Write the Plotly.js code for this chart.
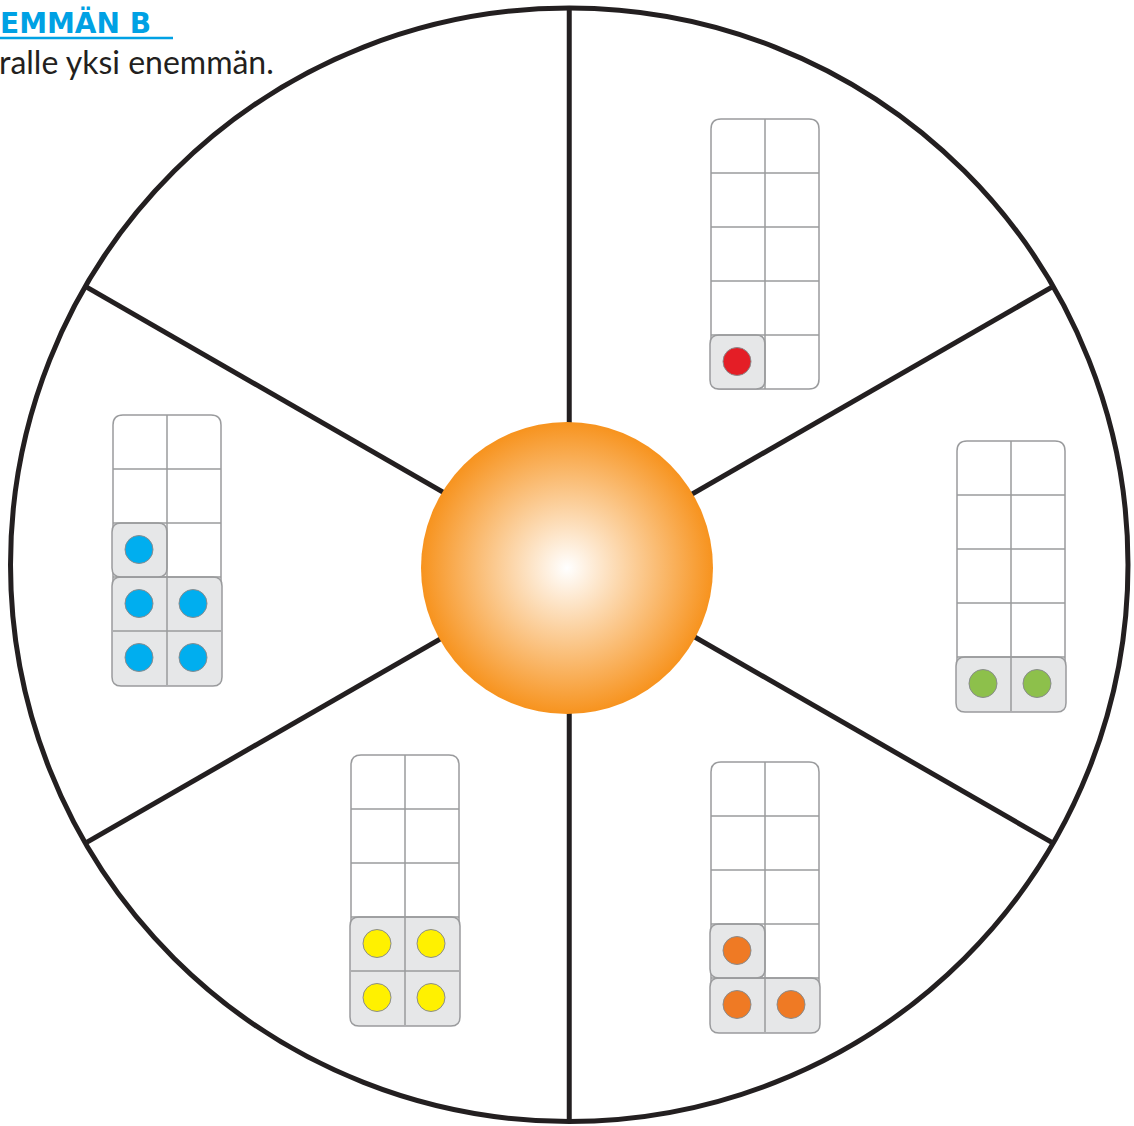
<!DOCTYPE html>
<html><head><meta charset="utf-8">
<script src="https://cdn.plot.ly/plotly-3.0.1.min.js"></script>
<style>html,body{margin:0;padding:0;background:#fff;}#chart{width:1134px;height:1126px;}</style>
</head><body><div id="chart"></div>
<script>
// ---------- data ----------
const sectorNames = ['ylävasen', 'yläoikea', 'oikea', 'alaoikea', 'alavasen', 'vasen'];
const counterCounts = [0, 1, 2, 3, 4, 5];
const counterColors = ['#ffffff', '#e41e26', '#8dc04b', '#ef7a24', '#fff100', '#00aeef'];
const frameColumns = 2;
const frameRows = 5;
const headerText = 'EMMÄN B';
const instructionText = 'ralle yksi enemmän.';

// ---------- layout constants ----------
const W = 1134, H = 1126;
const outer = {x0: 10.5, x1: 1128, y0: 8, y1: 1121.5};
const cx = (outer.x0 + outer.x1) / 2, cy = (outer.y0 + outer.y1) / 2;
const rx = (outer.x1 - outer.x0) / 2, ry = (outer.y1 - outer.y0) / 2;
const spokeAngles = [90, 30, -30, -90, -150, 150];
const inner = {cx: 567, cy: 568, d: 292};
const frameOrigins = [null, [711, 119], [957, 441], [711, 762], [351, 755], [113, 415]];
const cell = 54, frameR = 10, tileR = 9;
const ink = '#231f20', gridCol = '#9a9b9d', tileFill = '#e6e7e8', cyan = '#00a1e4';

function rrect(x0, y0, x1, y1, r) {
  return `M${x0 + r},${y0} H${x1 - r} Q${x1},${y0} ${x1},${y0 + r} V${y1 - r} Q${x1},${y1} ${x1 - r},${y1} H${x0 + r} Q${x0},${y1} ${x0},${y1 - r} V${y0 + r} Q${x0},${y0} ${x0 + r},${y0} Z`;
}

const shapes = [];
shapes.push({type: 'circle', xref: 'x', yref: 'y', x0: outer.x0, x1: outer.x1, y0: outer.y0, y1: outer.y1,
  line: {color: ink, width: 5}, fillcolor: 'rgba(0,0,0,0)', layer: 'below'});
spokeAngles.forEach(a => {
  const t = a * Math.PI / 180;
  shapes.push({type: 'line', xref: 'x', yref: 'y', x0: cx, y0: cy,
    x1: cx + rx * Math.cos(t), y1: cy - ry * Math.sin(t), line: {color: ink, width: 5}, layer: 'below'});
});

const dotX = [], dotY = [], dotC = [];
sectorNames.forEach((name, i) => {
  const o = frameOrigins[i];
  if (!o) return;
  const [ox, oy] = o;
  const fw = frameColumns * cell, fh = frameRows * cell;
  shapes.push({type: 'path', xref: 'x', yref: 'y', path: rrect(ox, oy, ox + fw, oy + fh, frameR),
    fillcolor: '#ffffff', line: {color: gridCol, width: 1.5}, layer: 'below'});
  const n = counterCounts[i];
  const fullRows = Math.floor(n / frameColumns), rem = n % frameColumns;
  if (fullRows > 0) {
    shapes.push({type: 'path', xref: 'x', yref: 'y',
      path: rrect(ox - 1, oy + (frameRows - fullRows) * cell, ox + fw + 1, oy + fh + 1, tileR),
      fillcolor: tileFill, line: {color: gridCol, width: 1.5}, layer: 'below'});
  }
  if (rem > 0) {
    const r = frameRows - 1 - fullRows;
    shapes.push({type: 'path', xref: 'x', yref: 'y',
      path: rrect(ox - 1, oy + r * cell, ox + rem * cell, oy + (r + 1) * cell, tileR),
      fillcolor: tileFill, line: {color: gridCol, width: 1.5}, layer: 'below'});
  }
  for (let c = 1; c < frameColumns; c++) {
    shapes.push({type: 'line', xref: 'x', yref: 'y', x0: ox + c * cell, x1: ox + c * cell, y0: oy, y1: oy + fh,
      line: {color: gridCol, width: 1.5}, layer: 'below'});
  }
  for (let r = 1; r < frameRows; r++) {
    shapes.push({type: 'line', xref: 'x', yref: 'y', x0: ox, x1: ox + fw, y0: oy + r * cell, y1: oy + r * cell,
      line: {color: gridCol, width: 1.5}, layer: 'below'});
  }
  for (let k = 0; k < n; k++) {
    const row = frameRows - 1 - Math.floor(k / frameColumns);
    const col = k % frameColumns;
    dotX.push(ox + col * cell + cell / 2 - 1);
    dotY.push(oy + row * cell + cell / 2 - 0.5);
    dotC.push(counterColors[i]);
  }
});

shapes.push({type: 'line', xref: 'x', yref: 'y', x0: 0, x1: 173, y0: 38, y1: 38,
  line: {color: cyan, width: 2.5}, layer: 'below'});

const traces = [
  {type: 'scatter', mode: 'markers', x: [inner.cx], y: [inner.cy], hoverinfo: 'skip',
    marker: {size: inner.d, color: '#f7931e', gradient: {type: 'radial', color: '#ffffff'}, line: {width: 0}}},
  {type: 'scatter', mode: 'markers', x: dotX, y: dotY, hoverinfo: 'skip',
    marker: {size: 28, color: dotC, line: {color: '#8a8c8e', width: 1}}}
];

const layout = {
  width: W, height: H, margin: {l: 0, r: 0, t: 0, b: 0, pad: 0},
  paper_bgcolor: '#ffffff', plot_bgcolor: '#ffffff', showlegend: false,
  xaxis: {range: [0, W], visible: false, fixedrange: true},
  yaxis: {range: [H, 0], visible: false, fixedrange: true},
  shapes: shapes,
  annotations: [
    {xref: 'paper', yref: 'paper', x: 0, y: 1 - 23 / H, xanchor: 'left', yanchor: 'middle', xshift: -2, showarrow: false,
      text: headerText, font: {family: 'DejaVu Sans', size: 28, color: cyan, weight: 'bold'}},
    {xref: 'paper', yref: 'paper', x: 0, y: 1 - 61 / H, xanchor: 'left', yanchor: 'middle', xshift: -3, showarrow: false,
      text: instructionText, font: {family: 'Lato', size: 32, color: ink}}
  ]
};

Plotly.newPlot('chart', traces, layout, {staticPlot: true, displayModeBar: false});
</script>
</body></html>
